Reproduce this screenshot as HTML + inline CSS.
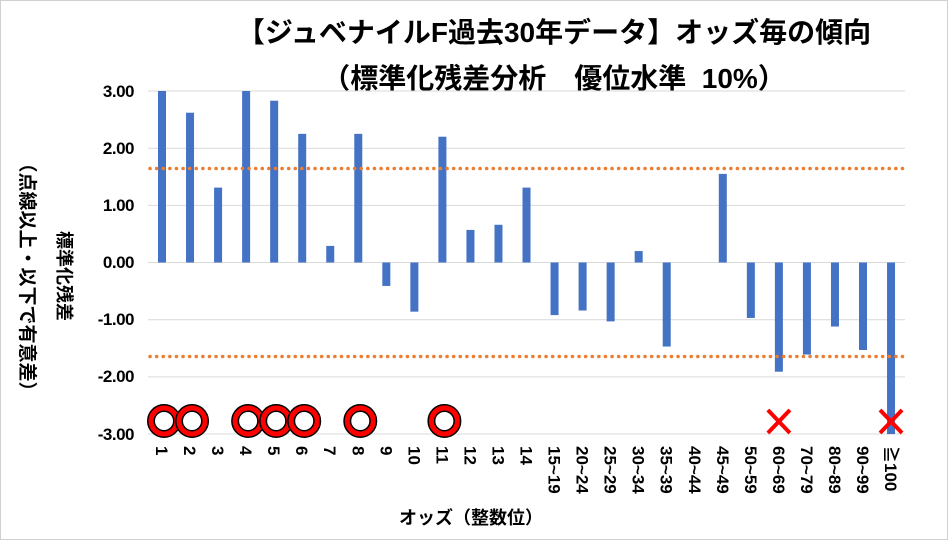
<!DOCTYPE html>
<html><head><meta charset="utf-8"><style>
body{margin:0;background:#fff}
svg{display:block;font-family:"Liberation Sans","Noto Sans CJK JP",sans-serif}
</style></head><body>
<svg width="949" height="541" viewBox="0 0 949 541" xmlns="http://www.w3.org/2000/svg">
<rect x="0.5" y="0.5" width="947" height="539" fill="#fff" stroke="#d0d0d0"/>
<text x="554" y="42" font-size="28" font-weight="bold" text-anchor="middle">【ジュベナイルF過去30年データ】オッズ毎の傾向</text>
<text x="554" y="88" font-size="28" font-weight="bold" text-anchor="middle">（標準化残差分析　優位水準_10%）</text>
<g stroke="#d9d9d9" stroke-width="1">
<line x1="148" x2="905" y1="91" y2="91"/><line x1="148" x2="905" y1="148.2" y2="148.2"/>
<line x1="148" x2="905" y1="205.4" y2="205.4"/><line x1="148" x2="905" y1="262.5" y2="262.5"/>
<line x1="148" x2="905" y1="319.7" y2="319.7"/><line x1="148" x2="905" y1="376.9" y2="376.9"/>
<line x1="148" x2="905" y1="434" y2="434"/>
</g>
<g font-size="17" font-weight="bold" text-anchor="end" letter-spacing="-0.5">
<text x="134" y="97">3.00</text><text x="134" y="154">2.00</text><text x="134" y="211">1.00</text>
<text x="134" y="268">0.00</text><text x="134" y="325">-1.00</text><text x="134" y="382">-2.00</text><text x="134" y="440">-3.00</text>
</g>
<g id="bars" fill="#4472c4"></g>
<g stroke="#ed7d31" stroke-width="3.5" stroke-dasharray="0.1 6.5" stroke-linecap="round">
<line x1="150" x2="903" y1="168.5" y2="168.5"/><line x1="150" x2="903" y1="356.5" y2="356.5"/>
</g>
<g id="marks"></g>
<g id="labels" font-size="17" font-weight="bold"></g>
<text x="471" y="524" font-size="18" font-weight="bold" text-anchor="middle">オッズ（整数位）</text>
<text transform="translate(58,276) rotate(90)" font-size="18" font-weight="bold" text-anchor="middle">標準化残差</text>
<text transform="translate(21,277) rotate(90)" font-size="19" font-weight="bold" text-anchor="middle">（点線以上・以下で有意差）</text>
</svg>
<script>
var cats=["1","2","3","4","5","6","7","8","9","10","11","12","13","14","15~19","20~24","25~29","30~34","35~39","40~44","45~49","50~59","60~69","70~79","80~89","90~99","≧100"];
var vals=[3,2.62,1.31,3,2.83,2.25,0.29,2.25,-0.41,-0.86,2.2,0.57,0.66,1.31,-0.92,-0.84,-1.03,0.2,-1.47,0,1.55,-0.97,-1.91,-1.61,-1.12,-1.53,-3];
var ns="http://www.w3.org/2000/svg",b=document.getElementById("bars"),l=document.getElementById("labels"),m=document.getElementById("marks");
function el(t,a,p){var e=document.createElementNS(ns,t);for(var k in a)e.setAttribute(k,a[k]);p.appendChild(e);return e;}
var circ=[0,1,3,4,5,7,10],cross=[22,26];
for(var i=0;i<27;i++){var cx=162+i*28.04,v=vals[i],y0=262.5,y=262.5-v*57.17;
el("rect",{x:cx-4,y:Math.min(y,y0),width:8,height:Math.abs(y-y0)},b);
var t=el("text",{transform:"translate("+(cx-6)+",446) rotate(90)"},l);t.textContent=cats[i];
if(circ.indexOf(i)>=0){el("circle",{cx:cx+2,cy:421,r:13,fill:"none",stroke:"#000","stroke-width":8},m);el("circle",{cx:cx+2,cy:421,r:13,fill:"none",stroke:"#f00","stroke-width":5},m);}
if(cross.indexOf(i)>=0){el("path",{d:"M"+(cx-11)+" 410 L"+(cx+11)+" 433 M"+(cx+11)+" 410 L"+(cx-11)+" 433",stroke:"#f00","stroke-width":4},m);}
}
</script>
</body></html>
